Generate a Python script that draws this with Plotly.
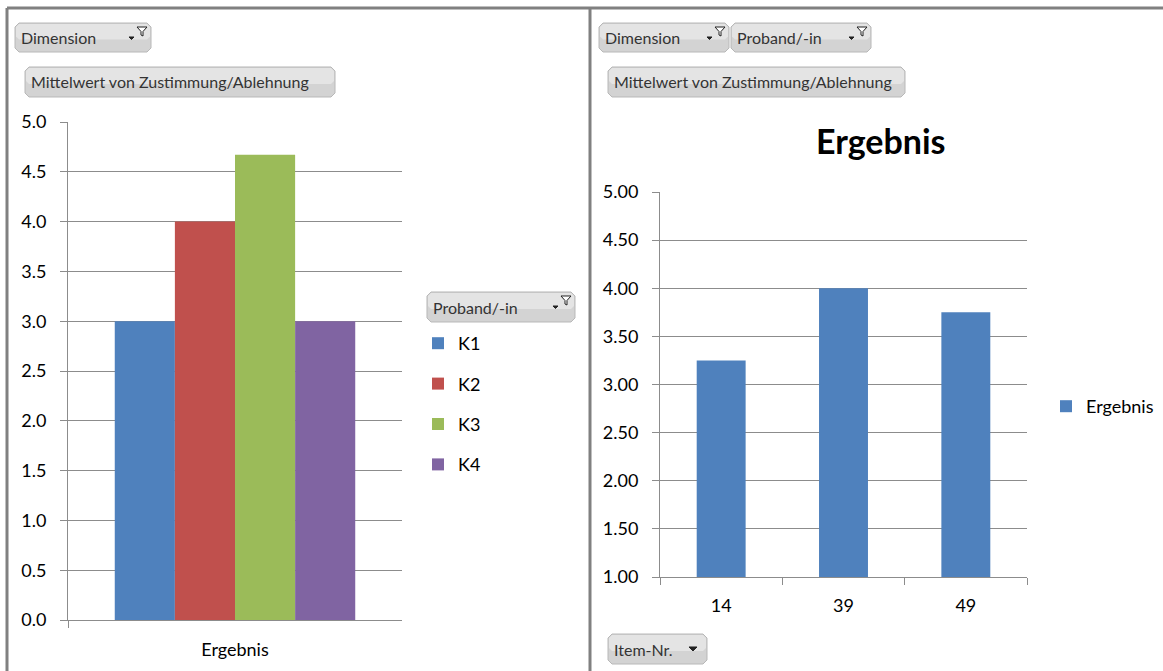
import plotly.graph_objects as go

W, H = 1163, 671

# ---- data -------------------------------------------------------------
left_category = ["Ergebnis"]
probanden = ["K1", "K2", "K3", "K4"]
probanden_means = [3.0, 4.0, 4.67, 3.0]
probanden_colors = ["#4F81BD", "#C0504D", "#9BBB59", "#8064A2"]

items = ["14", "39", "49"]
item_means = [3.25, 4.00, 3.75]
item_color = "#4F81BD"

left_ticks = [0.0, 0.5, 1.0, 1.5, 2.0, 2.5, 3.0, 3.5, 4.0, 4.5, 5.0]
right_ticks = [1.0, 1.5, 2.0, 2.5, 3.0, 3.5, 4.0, 4.5, 5.0]

FONT = "Lato, 'Open Sans', sans-serif"
GRID = "#8c8c8c"
FRAME = "#808080"


def px(x):
    return x / W


def py(y):
    return 1 - y / H


def path(points, close=True):
    s = "M" + " L".join(f"{px(x):.5f},{py(y):.5f}" for x, y in points)
    return s + (" Z" if close else "")


fig = go.Figure()

# left chart: mean per participant
for name, val, col in zip(probanden, probanden_means, probanden_colors):
    fig.add_trace(go.Bar(
        x=left_category, y=[val], name=name, marker_color=col,
        marker_line_width=0, xaxis="x", yaxis="y",
        legend="legend", legendgroup=name,
    ))

# right chart: mean per item
fig.add_trace(go.Bar(
    x=items, y=item_means, name="Ergebnis", marker_color=item_color,
    marker_line_width=0, width=0.4, offset=-0.2,
    xaxis="x2", yaxis="y2", legend="legend2",
))

axis_common = dict(
    showline=True, linecolor=GRID, linewidth=1,
    ticks="outside", tickcolor=GRID, ticklen=7,
    tickfont=dict(family=FONT, size=18, color="#000000"),
)

fig.update_layout(
    width=W, height=H,
    margin=dict(l=0, r=0, t=0, b=0, autoexpand=False),
    paper_bgcolor="white", plot_bgcolor="white",
    barmode="group", bargap=0.28, bargroupgap=0,
    font=dict(family=FONT, color="#000000"),
    xaxis=dict(domain=[px(68), px(402)], anchor="y", type="category",
               tickson="boundaries", showgrid=False,
               ticklabelstandoff=13, **axis_common),
    yaxis=dict(domain=[py(620), py(122)], anchor="x", range=[0, 5],
               tickvals=left_ticks, tickformat=".1f",
               showgrid=True, gridcolor=GRID, zeroline=False,
               ticklabelstandoff=10, **axis_common),
    xaxis2=dict(domain=[px(660), px(1027)], anchor="y2", type="category",
                tickson="boundaries", showgrid=False,
                ticklabelstandoff=12, **axis_common),
    yaxis2=dict(domain=[py(577), py(192)], anchor="x2", range=[1, 5],
                tickvals=right_ticks, tickformat=".2f",
                showgrid=True, gridcolor=GRID, zeroline=False,
                ticklabelstandoff=10, **axis_common),
    legend=dict(x=px(418), y=py(325), xanchor="left", yanchor="top",
                font=dict(family=FONT, size=18), tracegroupgap=14,
                bgcolor="rgba(0,0,0,0)"),
    legend2=dict(x=px(1046), y=py(388), xanchor="left", yanchor="top",
                 font=dict(family=FONT, size=18),
                 bgcolor="rgba(0,0,0,0)"),
)

shapes = []
annotations = []

# outer frame and divider
shapes.append(dict(type="line", xref="paper", yref="paper",
                   x0=px(7), x1=1, y0=py(8), y1=py(8),
                   line=dict(color=FRAME, width=3)))
shapes.append(dict(type="line", xref="paper", yref="paper",
                   x0=px(7), x1=px(7), y0=py(8), y1=0,
                   line=dict(color=FRAME, width=3)))
shapes.append(dict(type="line", xref="paper", yref="paper",
                   x0=px(590), x1=px(590), y0=py(8), y1=0,
                   line=dict(color=FRAME, width=3)))


def rounded(x0, y0, x1, y1, r=4):
    pts = [(x0 + r, y0), (x1 - r, y0), (x1, y0 + r), (x1, y1 - r),
           (x1 - r, y1), (x0 + r, y1), (x0, y1 - r), (x0, y0 + r)]
    return path(pts)


def button(x0, y0, x1, y1, label, icon=None):
    # rounded grey field button with a lighter upper half
    shapes.append(dict(type="path", xref="paper", yref="paper",
                       path=rounded(x0, y0, x1, y1),
                       fillcolor="#d3d3d3", line=dict(color="#b8b8b8", width=1)))
    mid = (y0 + y1) / 2
    shapes.append(dict(type="path", xref="paper", yref="paper",
                       path=rounded(x0 + 1, y0 + 1, x1 - 1, mid + 2, 3),
                       fillcolor="#e4e4e4", line=dict(width=0)))
    annotations.append(dict(xref="paper", yref="paper", x=px(x0 + 4), y=py(mid),
                            xanchor="left", yanchor="middle", showarrow=False,
                            text=label,
                            font=dict(family=FONT, size=16, color="#333333")))
    if icon == "filter":
        fx, fy = x1 - 14, y0 + 4
        shapes.append(dict(type="path", xref="paper", yref="paper",
                           path=path([(fx, fy), (fx + 10, fy), (fx + 6, fy + 4.5),
                                      (fx + 6, fy + 9), (fx + 4, fy + 8),
                                      (fx + 4, fy + 4.5)]),
                           fillcolor="#ffffff", line=dict(color="#222222", width=1)))
        shapes.append(dict(type="path", xref="paper", yref="paper",
                           path=path([(fx - 8, fy + 10), (fx - 3, fy + 10),
                                      (fx - 5.5, fy + 12.5)]),
                           fillcolor="#222222", line=dict(color="#222222", width=1)))
    elif icon == "arrow":
        ax, ay = x1 - 14, mid - 2
        shapes.append(dict(type="path", xref="paper", yref="paper",
                           path=path([(ax - 4, ay), (ax + 4, ay), (ax, ay + 4)]),
                           fillcolor="#222222", line=dict(color="#222222", width=1)))


button(15, 23, 151, 52, "Dimension", icon="filter")
button(25, 67, 335, 97, "Mittelwert von Zustimmung/Ablehnung")
button(427, 292, 575, 322, "Proband/-in", icon="filter")
button(599, 23, 729, 52, "Dimension", icon="filter")
button(731, 23, 871, 52, "Proband/-in", icon="filter")
button(608, 67, 905, 97, "Mittelwert von Zustimmung/Ablehnung")
button(608, 634, 707, 664, "Item-Nr.", icon="arrow")

annotations.append(dict(xref="paper", yref="paper", x=px(881), y=py(140),
                        xanchor="center", yanchor="middle", showarrow=False,
                        text="<b>Ergebnis</b>",
                        font=dict(family=FONT, size=34, color="#000000")))

fig.update_layout(shapes=shapes, annotations=annotations)

fig.write_html("out.html")
